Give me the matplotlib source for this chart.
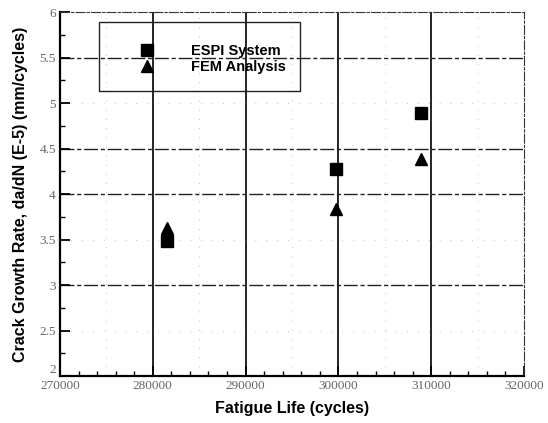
import matplotlib
matplotlib.use("Agg")
import matplotlib.pyplot as plt
from matplotlib.ticker import MultipleLocator, FixedLocator
from matplotlib.patches import Rectangle
from matplotlib.lines import Line2D

# Data
fatigue_life = [281500, 299750, 308850]
espi_rate = [3.48, 4.27, 4.89]
fem_rate = [3.63, 3.84, 4.38]
series_names = ["ESPI System", "FEM Analysis"]
x_ticks = [270000, 280000, 290000, 300000, 310000, 320000]
y_ticks = [2, 2.5, 3, 3.5, 4, 4.5, 5, 5.5, 6]
y_tick_labels = ["2", "2.5", "3", "3.5", "4", "4.5", "5", "5.5", "6"]

plt.rcParams['font.family'] = ['Liberation Sans', 'DejaVu Sans']

fig = plt.figure(figsize=(5.48, 4.23), dpi=100)
ax = fig.add_axes([60/548, 1-376/423, (524-60)/548, (376-12)/423])

ax.plot(fatigue_life, espi_rate, linestyle='none', marker='s', markersize=8,
        color='black')
ax.plot(fatigue_life, fem_rate, linestyle='none', marker='^', markersize=9,
        color='black')

ax.set_xlim(270000, 320000)
ax.set_ylim(2, 6)
ax.xaxis.set_major_locator(FixedLocator(x_ticks))
ax.xaxis.set_minor_locator(MultipleLocator(2000))
ax.yaxis.set_major_locator(FixedLocator(y_ticks))
ax.yaxis.set_minor_locator(MultipleLocator(0.25))
ax.set_xticklabels([str(v) for v in x_ticks])
ax.set_yticklabels(y_tick_labels)

ax.tick_params(which='major', direction='in', length=7, width=1.3, color='black',
               labelsize=9.5, labelcolor='#666666', pad=3)
ax.tick_params(which='minor', direction='in', length=3.5, width=1.0, color='black')
for lab in ax.get_xticklabels() + ax.get_yticklabels():
    lab.set_family(['Liberation Serif', 'DejaVu Serif'])
ax.get_yticklabels()[0].set_verticalalignment('bottom')

for sp in ['left', 'bottom']:
    ax.spines[sp].set_linewidth(1.6)
for sp in ['top', 'right']:
    ax.spines[sp].set_linewidth(0.8)
    ax.spines[sp].set_linestyle((0, (8, 2, 2, 2)))
    ax.spines[sp].set_color('#333333')

# grids
ax.grid(False)
for v in x_ticks[1:-1]:
    ax.axvline(v, color='black', linewidth=1.2, zorder=1)
strong = [3, 4, 4.5, 5.5]
for v in y_ticks[1:-1]:
    if v in strong:
        ax.axhline(v, color='#222222', linewidth=1.0, linestyle=(0, (10, 2, 3, 2)), zorder=1)
    else:
        ax.axhline(v, color='#aaaaaa', linewidth=0.6, linestyle=(0, (1, 12)), zorder=1)
for v in [275000, 285000, 295000, 305000, 315000]:
    ax.axvline(v, color='#aaaaaa', linewidth=0.6, linestyle=(0, (1, 10)), zorder=1)

ax.set_xlabel("Fatigue Life (cycles)", fontsize=11.5, fontweight='bold', labelpad=6)
ax.set_ylabel("Crack Growth Rate, da/dN (E-5) (mm/cycles)", fontsize=11.5,
              fontweight='bold', labelpad=8)

# legend
handles = [Line2D([], [], linestyle='none', marker='s', markersize=8, color='black'),
           Line2D([], [], linestyle='none', marker='^', markersize=9, color='black')]
leg = ax.legend(handles, series_names, loc='center left',
                bbox_to_anchor=(136/548, 1-59/423), bbox_transform=fig.transFigure,
                frameon=False, prop={'weight': 'bold', 'size': 10.5},
                handlelength=1.5, handletextpad=2.3, labelspacing=0.12,
                borderpad=0, borderaxespad=0)
fig.patches.append(Rectangle((99/548, 1-91/423), 201/548, 69/423,
                             transform=fig.transFigure, fill=False,
                             edgecolor='#222222', linewidth=1.0))

fig.savefig("out.png", dpi=100)
